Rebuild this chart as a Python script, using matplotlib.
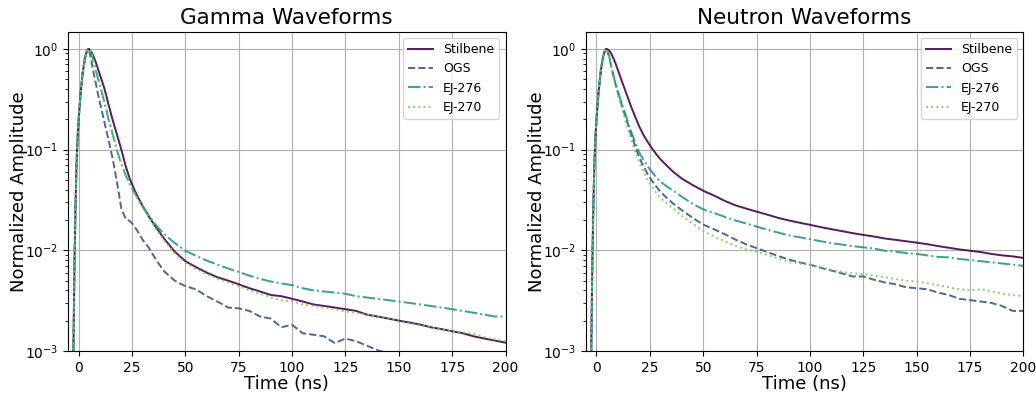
import numpy as np
import matplotlib
matplotlib.use("Agg")
import matplotlib.pyplot as plt

# time axis (ns), shared by all waveforms
t = [-5, -3, -2.5, -2, -1.5, -1, -0.5, 0, 1, 2, 3, 4, 4.5, 5, 6, 7, 8, 9, 10,
     12, 14, 16, 18, 20, 22, 24, 26, 28, 30, 33, 36, 40, 45,
     50, 55, 60, 65, 70, 75, 80, 85, 90, 95, 100, 105, 110, 115, 120, 125,
     130, 135, 140, 145, 150, 155, 160, 165, 170, 175, 180, 185, 190, 195, 200]

rise = [1e-4, 3e-4, 0.0008, 0.006, 0.025, 0.07, 0.13, 0.2, 0.38, 0.6, 0.82, 0.97, 1.0]

# gamma waveforms (after the rising edge)
g_stilbene = rise + [0.99, 0.93, 0.84, 0.74, 0.64, 0.55,
                     0.41, 0.28, 0.195, 0.14, 0.1, 0.069, 0.051, 0.0404, 0.033, 0.0275, 0.0215, 0.0172, 0.0131, 0.0097,
                     0.0078, 0.0068, 0.006, 0.0054, 0.005, 0.0046, 0.0042, 0.0039, 0.0036, 0.0035, 0.0033, 0.0031,
                     0.0029, 0.0028, 0.0027, 0.0026, 0.0025, 0.0023, 0.0022, 0.0021, 0.002, 0.00192, 0.00183,
                     0.00172, 0.00165, 0.00157, 0.0015, 0.0014, 0.00133, 0.00127, 0.00121]
g_ogs = rise[:-2] + [1.0, 0.99, 0.95, 0.75, 0.58, 0.46, 0.36, 0.29,
                     0.19, 0.125, 0.08, 0.047, 0.026, 0.0205, 0.0195, 0.0175, 0.015, 0.0127, 0.0105, 0.0082, 0.0062, 0.005,
                     0.0044, 0.0041, 0.0035, 0.0031, 0.0027, 0.00265, 0.0025, 0.0022, 0.0021, 0.00172, 0.00182, 0.0015,
                     0.00145, 0.0014, 0.0012, 0.00133, 0.00125, 0.00113, 0.00102, 0.00095, 0.0009, 0.00085, 0.0008,
                     0.00077, 0.00073, 0.0007, 0.00068, 0.00065, 0.00063, 0.0006, 0.00058]
g_ej276 = rise[:-1] + [1.0, 0.98, 0.9, 0.75, 0.62, 0.51, 0.43,
                       0.3, 0.2, 0.14, 0.097, 0.072, 0.056, 0.045, 0.038, 0.032, 0.027, 0.022, 0.018, 0.0145, 0.0118,
                       0.0099, 0.0088, 0.0079, 0.0072, 0.0066, 0.0061, 0.0056, 0.0052, 0.0049, 0.0047, 0.0045, 0.0042,
                       0.004, 0.0039, 0.0038, 0.0037, 0.0035, 0.0034, 0.0033, 0.0032, 0.0031, 0.003, 0.0029,
                       0.0028, 0.0027, 0.0026, 0.0025, 0.0024, 0.0023, 0.0022, 0.0022]
g_ej270 = rise + [0.99, 0.92, 0.78, 0.65, 0.54, 0.45,
                  0.31, 0.21, 0.145, 0.1, 0.074, 0.057, 0.045, 0.037, 0.031, 0.0265, 0.021, 0.0165, 0.0125, 0.0093,
                  0.0075, 0.0065, 0.0058, 0.0052, 0.0048, 0.0044, 0.004, 0.0037, 0.0034, 0.0032, 0.0031, 0.0029,
                  0.0028, 0.0027, 0.0026, 0.00246, 0.0024, 0.0023, 0.0022, 0.0021, 0.00196, 0.00188, 0.0018,
                  0.0017, 0.00163, 0.00157, 0.00153, 0.00148, 0.00138, 0.0013, 0.00126]

# neutron waveforms
n_stilbene = rise + [0.995, 0.96, 0.89, 0.8, 0.71, 0.62,
                     0.47, 0.36, 0.275, 0.215, 0.17, 0.14, 0.119, 0.103, 0.09, 0.08, 0.069, 0.06, 0.0515, 0.0445,
                     0.039, 0.035, 0.031, 0.028, 0.026, 0.0242, 0.0226, 0.021, 0.0198, 0.0188, 0.0179, 0.017,
                     0.0162, 0.0155, 0.0148, 0.0142, 0.0137, 0.0131, 0.0127, 0.0123, 0.0119, 0.0115, 0.011,
                     0.0106, 0.0102, 0.0099, 0.0096, 0.0092, 0.0089, 0.0087, 0.0084]
n_ogs = rise + [0.96, 0.83, 0.65, 0.53, 0.44, 0.37,
                0.27, 0.2, 0.145, 0.11, 0.084, 0.068, 0.057, 0.049, 0.043, 0.038, 0.033, 0.029, 0.025, 0.021,
                0.018, 0.0162, 0.0145, 0.0128, 0.0115, 0.0105, 0.0096, 0.0088, 0.0081, 0.0076, 0.0072, 0.0067,
                0.0063, 0.0059, 0.0055, 0.0055, 0.0051, 0.0048, 0.0046, 0.0043, 0.0042, 0.0041, 0.0038,
                0.0036, 0.0033, 0.0032, 0.0031, 0.003, 0.0028, 0.0025, 0.0025]
n_ej276 = rise + [0.97, 0.84, 0.66, 0.54, 0.45, 0.38,
                  0.28, 0.21, 0.155, 0.12, 0.094, 0.079, 0.068, 0.06, 0.053, 0.048, 0.043, 0.039, 0.034, 0.029,
                  0.0255, 0.0235, 0.0215, 0.0198, 0.0185, 0.0172, 0.016, 0.015, 0.0141, 0.0135, 0.0129, 0.0123,
                  0.0118, 0.0114, 0.011, 0.0107, 0.0104, 0.0099, 0.0097, 0.0094, 0.0092, 0.0089, 0.0086,
                  0.0085, 0.0082, 0.008, 0.0078, 0.0076, 0.0074, 0.0072, 0.007]
n_ej270 = rise + [0.96, 0.81, 0.63, 0.51, 0.42, 0.35,
                  0.25, 0.18, 0.13, 0.097, 0.076, 0.06, 0.05, 0.043, 0.037, 0.033, 0.029, 0.026, 0.022, 0.0185,
                  0.0155, 0.0137, 0.0123, 0.0111, 0.0102, 0.0097, 0.009, 0.0083, 0.0077, 0.0074, 0.0072, 0.0068,
                  0.0064, 0.0061, 0.0059, 0.0058, 0.0056, 0.0054, 0.0052, 0.005, 0.0049, 0.0047, 0.0045,
                  0.0043, 0.0041, 0.004, 0.0041, 0.0039, 0.0037, 0.0036, 0.0035]

names = ['Stilbene', 'OGS', 'EJ-276', 'EJ-270']
styles = ['-', '--', '-.', ':']
colors = plt.cm.viridis(np.linspace(0, 0.8, 4))

panels = [('Gamma Waveforms', [g_stilbene, g_ogs, g_ej276, g_ej270]),
          ('Neutron Waveforms', [n_stilbene, n_ogs, n_ej276, n_ej270])]

fig, axes = plt.subplots(1, 2, figsize=(10.36, 3.95), dpi=100)
plt.subplots_adjust(left=0.0656, right=0.9878, top=0.919, bottom=0.1114, wspace=0.1835)

for ax, (title, series) in zip(axes, panels):
    for y, name, ls, c in zip(series, names, styles, colors):
        ax.plot(t, y, ls, color=c, label=name, lw=1.4, alpha=0.9)
    ax.set_yscale('log')
    ax.set_xlim(-5, 200)
    ax.set_ylim(1e-3, 1.47)
    ax.set_title(title, fontsize=15.5)
    ax.set_xlabel('Time (ns)', fontsize=13, labelpad=0)
    ax.set_ylabel('Normalized Amplitude', fontsize=13, labelpad=-2.5)
    ax.grid(True)
    ax.legend(loc='upper right', fontsize=9)

plt.savefig('out.png', dpi=100)
